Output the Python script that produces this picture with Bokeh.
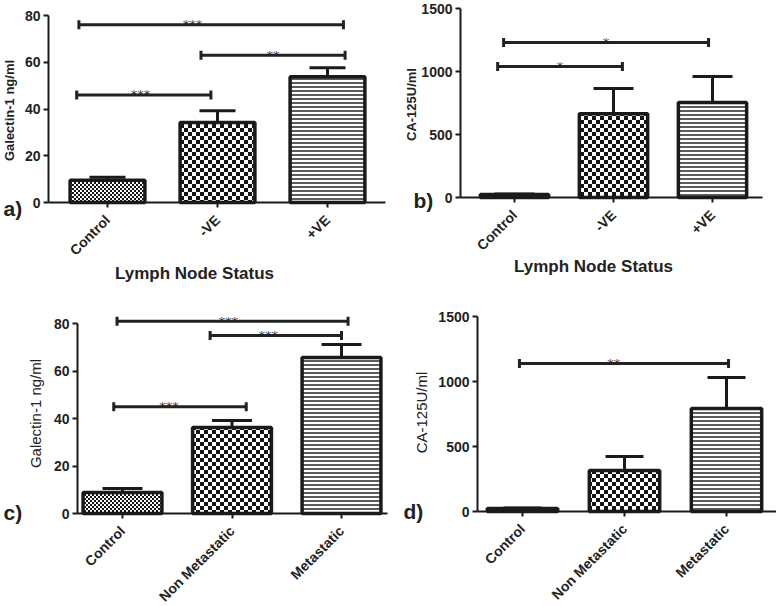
import math
import base64
from bokeh.plotting import figure
from bokeh.models import (Range1d, FixedTicker, Whisker, TeeHead, ColumnDataSource,
                          Label, ImageURLTexture)
from bokeh.layouts import column, row
from bokeh.core.properties import value
from bokeh.embed import file_html
from bokeh.resources import INLINE

FONT = "Liberation Sans"
INK = "#1a1a1a"

# ---------------- data ----------------
lymph_categories = ["Control", "-VE", "+VE"]
meta_categories = ["Control", "Non Metastatic", "Metastatic"]

# a) Galectin-1 (ng/ml) by lymph node status
a_means = [9.5, 34.2, 53.8]
a_sem = [1.3, 5.1, 3.9]
# b) CA-125 (U/ml) by lymph node status
b_means = [24.0, 665.0, 754.0]
b_sem = [4.0, 200.0, 206.0]
# c) Galectin-1 (ng/ml) by metastasis
c_means = [8.8, 36.2, 65.7]
c_sem = [1.7, 3.0, 5.5]
# d) CA-125 (U/ml) by metastasis
d_means = [23.0, 315.0, 792.0]
d_sem = [3.0, 108.0, 239.0]

# significance brackets: group from, group to, height, label
a_br_from = [0, 1, 0]
a_br_to = [2, 2, 1]
a_br_y = [76, 63, 46]
a_br_text = ["***", "**", "***"]

b_br_from = [0, 0]
b_br_to = [2, 1]
b_br_y = [1230, 1040]
b_br_text = ["*", "*"]

c_br_from = [0, 1, 0]
c_br_to = [2, 2, 1]
c_br_y = [81, 75, 45]
c_br_text = ["***", "***", "***"]

d_br_from = [0]
d_br_to = [2]
d_br_y = [1138]
d_br_text = ["**"]

# ---------------- layout ----------------
# bracket end nudges and star nudges, in category units
a_br_nudge = [(-0.26, 0.145), (-0.15, 0.16), (-0.28, -0.06)]
b_br_nudge = [(-0.11, -0.04), (-0.17, 0.09)]
c_br_nudge = [(-0.05, 0.06), (-0.2, 0.0), (-0.08, 0.13)]
d_br_nudge = [(-0.03, 0.02)]
a_star_nudge = [-0.17, 0.0, -0.03]
b_star_nudge = [0.0, 0.0]
c_star_nudge = [-0.04, -0.07, -0.1]
d_star_nudge = [-0.1]


def checker_texture(sq):
    n = sq * 2
    svg = (f"<svg xmlns='http://www.w3.org/2000/svg' width='{n}' height='{n}' "
           f"shape-rendering='crispEdges'>"
           f"<rect width='{n}' height='{n}' fill='#ffffff'/>"
           f"<rect width='{sq}' height='{sq}' fill='#151515'/>"
           f"<rect x='{sq}' y='{sq}' width='{sq}' height='{sq}' fill='#151515'/></svg>")
    url = "data:image/svg+xml;base64," + base64.b64encode(svg.encode()).decode()
    return ImageURLTexture(url=url)


TEXTURES = {"fine": checker_texture(2), "checker": checker_texture(4)}


class Geo:
    """maps page pixels <-> data for one panel"""
    def __init__(self, ox, oy, w, h, c0, dx, y0, yref, vref):
        self.ox, self.oy, self.w, self.h = ox, oy, w, h
        self.c0, self.dx, self.y0 = c0, dx, y0
        self.k = (y0 - yref) / vref

    def x(self, px):
        return (px - self.c0) / self.dx

    def y(self, py):
        return (self.y0 - py) / self.k

    def xr(self):
        return Range1d(self.x(self.ox), self.x(self.ox + self.w))

    def yr(self):
        return Range1d(self.y(self.oy + self.h), self.y(self.oy))


def panel(geo, cats, means, sem, br_from, br_to, br_y, br_text, br_nudge, star_nudge,
          ymax, ystep, axis_px, axis_end_px, bar_w, cap, xtick_size,
          ylabel, ylabel_pos, ylabel_bold, xlabel, xlabel_pos, tag, tag_pos):
    p = figure(width=geo.w, height=geo.h, output_backend="svg", toolbar_location=None,
               x_range=geo.xr(), y_range=geo.yr(),
               min_border_left=0, min_border_right=0, min_border_top=0, min_border_bottom=0)
    p.outline_line_color = None
    p.grid.visible = False

    xs = list(range(len(cats)))
    src = ColumnDataSource(dict(x=xs, top=means, pat=["fine", "checker", "-"]))
    p.vbar(x="x", top="top", width=bar_w, source=src, fill_color="white",
           line_color=INK, line_width=3.5,
           hatch_pattern="pat", hatch_scale=4, hatch_color="#151515",
           hatch_weight=1.4, hatch_extra=TEXTURES)

    esrc = ColumnDataSource(dict(x=xs, lo=means, hi=[m + e for m, e in zip(means, sem)]))
    p.add_layout(Whisker(base="x", lower="lo", upper="hi", source=esrc,
                         dimension="height", line_width=3, line_color=INK,
                         lower_head=None, level="glyph",
                         upper_head=TeeHead(size=cap, line_width=3, line_color=INK)))

    x0 = [f + n[0] for f, n in zip(br_from, br_nudge)]
    x1 = [t + n[1] for t, n in zip(br_to, br_nudge)]
    xm = [(a + b) / 2 + s for a, b, s in zip(x0, x1, star_nudge)]
    bsrc = ColumnDataSource(dict(y=br_y, x0=x0, x1=x1, xm=xm, t=br_text))
    p.add_layout(Whisker(base="y", lower="x0", upper="x1", source=bsrc,
                         dimension="width", line_width=3, line_color="#222222",
                         level="glyph",
                         lower_head=TeeHead(size=9, line_width=3, line_color="#222222"),
                         upper_head=TeeHead(size=9, line_width=3, line_color="#222222")))
    p.text(x="xm", y="y", text="t", source=bsrc, text_font=value("DejaVu Sans"),
           text_font_size="13px", text_align="center", text_baseline="alphabetic",
           y_offset=0, text_color="#333333")

    for ax in (p.xaxis[0], p.yaxis[0]):
        ax.axis_line_width = 2
        ax.axis_line_color = INK
        ax.major_tick_line_width = 2
        ax.major_tick_line_color = INK
        ax.major_tick_out = 5
        ax.major_tick_in = 0
        ax.minor_tick_line_color = None
        ax.major_label_text_font = FONT
        ax.major_label_text_font_style = "bold"
        ax.major_label_text_color = "#222222"
    p.yaxis.major_label_text_font_size = "14px"
    p.xaxis.major_label_text_font_size = xtick_size
    p.yaxis.major_label_standoff = 3
    p.xaxis.major_label_standoff = 10
    p.xaxis.ticker = FixedTicker(ticks=xs)
    p.xaxis.major_label_overrides = {i: c for i, c in enumerate(cats)}
    p.xaxis.major_label_orientation = math.pi / 4
    p.xaxis.fixed_location = 0
    p.xaxis.bounds = (geo.x(axis_px), geo.x(axis_end_px))
    p.yaxis.ticker = FixedTicker(ticks=list(range(0, ymax + 1, ystep)))
    p.yaxis.bounds = (0, ymax)
    p.yaxis.fixed_location = geo.x(axis_px)

    p.add_layout(Label(x=geo.x(ylabel_pos[0]), y=geo.y(ylabel_pos[1]), text=ylabel,
                       angle=math.pi / 2, text_align="center", text_baseline="middle",
                       text_font=FONT, text_font_size="13px" if ylabel_bold else "15px",
                       text_font_style="bold" if ylabel_bold else "normal",
                       text_color="#222222"))
    if xlabel:
        p.add_layout(Label(x=geo.x(xlabel_pos[0]), y=geo.y(xlabel_pos[1]), text=xlabel,
                           text_align="center", text_baseline="middle",
                           text_font=FONT, text_font_size="17px", text_font_style="bold",
                           text_color="#222222"))
    p.add_layout(Label(x=geo.x(tag_pos[0]), y=geo.y(tag_pos[1]), text=tag,
                       text_align="left", text_baseline="middle",
                       text_font=FONT, text_font_size="21px", text_font_style="bold",
                       text_color="#222222"))
    return p


geo_a = Geo(0, 0, 388, 298, 107, 110, 202, 15, 80)
geo_b = Geo(388, 0, 388, 298, 514, 99, 197, 8, 1500)
geo_c = Geo(0, 298, 388, 307, 122, 109.5, 513, 323, 80)
geo_d = Geo(388, 298, 388, 307, 522, 102, 511, 316, 1500)

pa = panel(geo_a, lymph_categories, a_means, a_sem, a_br_from, a_br_to, a_br_y, a_br_text,
           a_br_nudge, a_star_nudge, 80, 20, 48, 385, 0.68, 36, "14px",
           "Galectin-1 ng/ml", (9, 110), True, "Lymph Node Status", (194, 273), "a)", (3, 208))
pb = panel(geo_b, lymph_categories, b_means, b_sem, b_br_from, b_br_to, b_br_y, b_br_text,
           b_br_nudge, b_star_nudge, 1500, 500, 460, 762, 0.69, 40, "14px",
           "CA-125U/ml", (411, 104), True, "Lymph Node Status", (593, 266), "b)", (413, 200))
pc = panel(geo_c, meta_categories, c_means, c_sem, c_br_from, c_br_to, c_br_y, c_br_text,
           c_br_nudge, c_star_nudge, 80, 20, 77, 387, 0.72, 40, "14px",
           "Galectin-1 ng/ml", (35, 413), False, None, None, "c)", (3, 512))
pd_ = panel(geo_d, meta_categories, d_means, d_sem, d_br_from, d_br_to, d_br_y, d_br_text,
            d_br_nudge, d_star_nudge, 1500, 500, 477, 776, 0.69, 38, "14px",
            "CA-125U/ml", (421, 412), False, None, None, "d)", (403, 511))

layout = column(row(pa, pb), row(pc, pd_))
open("out.html", "w").write(file_html(layout, INLINE))
